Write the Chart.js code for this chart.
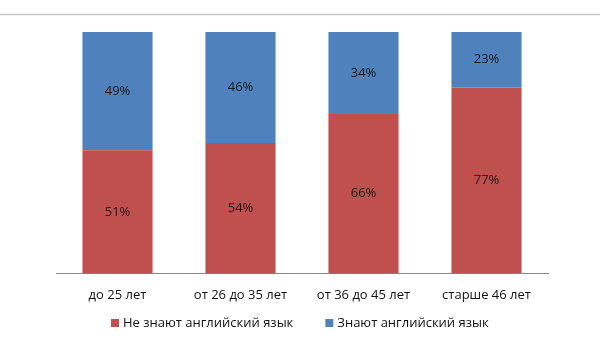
<!DOCTYPE html>
<html>
<head>
<meta charset="utf-8">
<script src="https://cdn.jsdelivr.net/npm/chart.js@4"></script>
<style>
  html, body { margin: 0; padding: 0; background: #fff; }
  #wrap { width: 600px; height: 339px; position: relative; }
</style>
</head>
<body>
<div id="wrap"><canvas id="chart"></canvas></div>
<script>
// возрастные группы и доли (%)
const categories = ['до 25 лет', 'от 26 до 35 лет', 'от 36 до 45 лет', 'старше 46 лет'];
const notKnow = [51, 54, 66, 77];
const know = [49, 46, 34, 23];
const seriesNames = ['Не знают английский язык', 'Знают английский язык'];

const FONT = '"Open Sans", sans-serif';

// подписи значений в центре сегментов
const valueLabels = {
  id: 'valueLabels',
  afterDatasetsDraw(chart) {
    const ctx = chart.ctx;
    ctx.save();
    ctx.font = '13px ' + FONT;
    ctx.fillStyle = '#1a1a1a';
    ctx.textAlign = 'center';
    ctx.textBaseline = 'middle';
    chart.data.datasets.forEach((ds, i) => {
      chart.getDatasetMeta(i).data.forEach((bar, j) => {
        const mid = (bar.y + bar.base) / 2;
        ctx.fillText(ds.data[j] + '%', bar.x, mid);
      });
    });
    ctx.restore();
  }
};

// верхняя серая линия рамки
const topRule = {
  id: 'topRule',
  beforeDraw(chart) {
    const ctx = chart.ctx;
    ctx.save();
    ctx.strokeStyle = '#c8c8c8';
    ctx.lineWidth = 1.5;
    ctx.beginPath();
    ctx.moveTo(0, 14.5);
    ctx.lineTo(chart.width, 14.5);
    ctx.stroke();
    ctx.restore();
  }
};

// легенда внизу: квадратик + подпись, элементы разнесены
const bottomLegend = {
  id: 'bottomLegend',
  afterDraw(chart) {
    const ctx = chart.ctx;
    const box = 8, gapText = 4, gapItem = 32, y = 323;
    ctx.save();
    ctx.font = '13px ' + FONT;
    ctx.textBaseline = 'middle';
    const items = chart.data.datasets.map(ds => ({
      text: ds.label, color: ds.backgroundColor, w: ctx.measureText(ds.label).width
    }));
    let total = items.reduce((s, it) => s + box + gapText + it.w, 0) + gapItem * (items.length - 1);
    let x = Math.round(chart.width / 2 - total / 2);
    items.forEach(it => {
      ctx.fillStyle = it.color;
      ctx.fillRect(x, y - box / 2, box, box);
      x += box + gapText;
      ctx.fillStyle = '#111';
      ctx.fillText(it.text, x, y);
      x += it.w + gapItem;
    });
    ctx.restore();
  }
};

new Chart(document.getElementById('chart'), {
  type: 'bar',
  data: {
    labels: categories,
    datasets: [
      { label: seriesNames[0], data: notKnow, backgroundColor: '#c0504d' },
      { label: seriesNames[1], data: know, backgroundColor: '#4f81bd' }
    ]
  },
  options: {
    responsive: true,
    maintainAspectRatio: false,
    animation: false,
    layout: { padding: { left: 56, right: 52, top: 32, bottom: 30 } },
    categoryPercentage: 0.57,
    barPercentage: 1,
    scales: {
      x: {
        stacked: true,
        grid: { display: false },
        border: { color: '#888', width: 1 },
        ticks: { color: '#111', font: { family: FONT, size: 13 }, padding: 6 }
      },
      y: {
        stacked: true,
        display: false,
        min: 0,
        max: 100
      }
    },
    plugins: {
      tooltip: { enabled: false },
      legend: { display: false }
    }
  },
  plugins: [valueLabels, topRule, bottomLegend]
});
</script>
</body>
</html>
